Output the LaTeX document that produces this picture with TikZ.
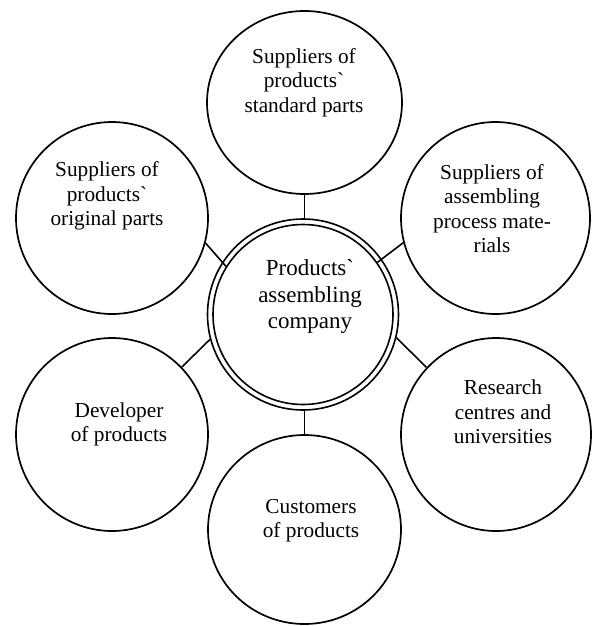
\documentclass[tikz,border=0pt]{standalone}
\usepackage{fontspec}
\setmainfont{Liberation Serif}
\usetikzlibrary{shapes.geometric}

\tikzset{
    bubble/.style={draw, ellipse, line width=1.7pt, inner sep=0pt},
    hub/.style={draw, circle, line width=1.6pt, inner sep=0pt},
    txt/.style={align=center, inner sep=0pt, font=\fontsize{21.3}{24.5}\selectfont},
    link/.style={line width=1.6pt}
}

\begin{document}
\begin{tikzpicture}[x=1pt, y=-1pt]
    \useasboundingbox (0,0) rectangle (592,626);

    % Draw central company (double circle)
    \node[hub, minimum size=191pt] (c) at (303,314.5) {};
    \node[hub, minimum size=180pt] (ci) at (303,314.5) {};
    \node[txt, font=\fontsize{23}{26.7}\selectfont] (ct) at (310,296.5)
        {Products\textasciigrave\\assembling\\company};

    % Draw surrounding partners
    \node[bubble, minimum width=195pt, minimum height=183pt] (top) at (304.5,102.5) {};
    \node[bubble, minimum width=192pt, minimum height=192pt] (lu) at (112,218) {};
    \node[bubble, minimum width=189pt, minimum height=192pt] (ru) at (495.5,218) {};
    \node[bubble, minimum width=192pt, minimum height=193pt] (ll) at (112,434.5) {};
    \node[bubble, minimum width=190pt, minimum height=193pt] (rl) at (496,434.5) {};
    \node[bubble, minimum width=193pt, minimum height=189pt] (bot) at (304.5,529.5) {};

    % Texts of the partners
    \node[txt] (top-t) at (304,82.5) {Suppliers of\\products\textasciigrave\\standard parts};
    \node[txt] (lu-t) at (107,196) {Suppliers of\\products\textasciigrave\\original parts};
    \node[txt] (ru-t) at (492,208.5) {Suppliers of\\assembling\\process mate-\\rials};
    \node[txt] (ll-t) at (119,424.5) {Developer\\of products};
    \node[txt] (rl-t) at (503,412) {Research\\centres and\\universities};
    \node[txt] (bot-t) at (311,520.5) {Customers\\of products};

    % Draw links to the company
    \draw[link] (top.south) -- (top.south |- c.north);
    \draw[link] (bot.north |- c.south) -- (bot.north);
    \draw[link] (lu.-15) -- (ci.148);
    \draw[link] (ru.195) -- (ci.35);
    \draw[link] (ll.44) -- (c.195);
    \draw[link] (rl.136) -- (c.-14);
\end{tikzpicture}
\end{document}
